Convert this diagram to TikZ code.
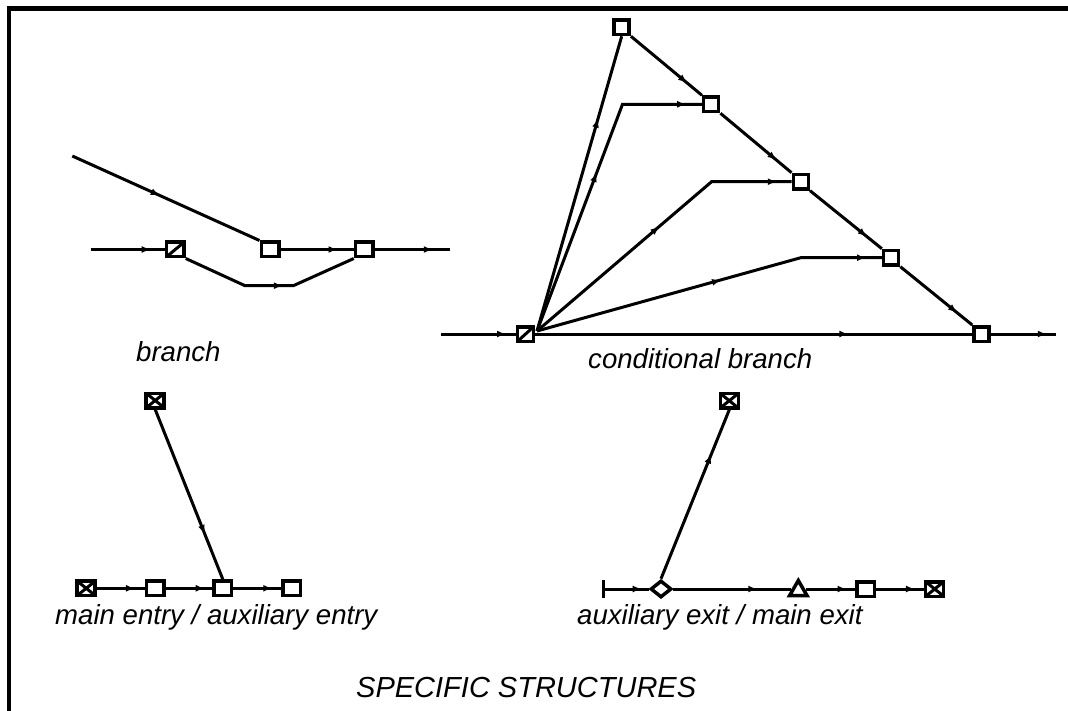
\documentclass[tikz,border=0pt]{standalone}
\usepackage{fontspec}
\setmainfont{Liberation Sans}
\usetikzlibrary{arrows.meta,decorations.markings,shapes.geometric}
\tikzset{
  conn/.style={line width=3pt, line join=miter},
  arr/.style={postaction={decorate,decoration={markings,mark=at position #1 with {\arrow{Latex[length=9pt,width=7pt]}}}}},
  box/.style={draw, line width=3.5pt, fill=white, inner sep=0pt, minimum width=17.5pt, minimum height=14.5pt},
  cbox/.style={box, minimum width=15pt, minimum height=14.5pt},
  slashbox/.style={box, path picture={\draw[line width=3pt] (path picture bounding box.south west) -- (path picture bounding box.north east);}},
  xbox/.style={box, minimum width=18pt, minimum height=14.5pt, path picture={\draw[line width=3pt] (path picture bounding box.south west) -- (path picture bounding box.north east) (path picture bounding box.north west) -- (path picture bounding box.south east);}},
  dbox/.style={diamond, draw, line width=3.5pt, fill=white, inner sep=0pt, minimum width=21pt, minimum height=17pt},
  tbox/.style={regular polygon, regular polygon sides=3, draw, line width=3.5pt, fill=white, inner sep=0pt, minimum size=20pt},
  lbl/.style={anchor=base west, inner sep=0pt, font=\fontsize{27.6}{33}\selectfont\itshape},
  ttl/.style={anchor=base west, inner sep=0pt, font=\fontsize{29}{35}\selectfont\itshape},
}
\begin{document}
\begin{tikzpicture}[x=1pt,y=-1pt]
\useasboundingbox (0,0) rectangle (1068,711);
% frame
\draw[line width=4.5pt] (9,711) -- (9,8.5) -- (1068,8.5);

% ---------- branch ----------
\node[slashbox] (br) at (175.3,249.5) {};
\node[box] (ba) at (270,249.5) {};
\node[box] (bb) at (364.3,249.5) {};
\coordinate (b0) at (90.7,249.5);
\coordinate (b9) at (450,249.5);
\coordinate (bt) at (72.3,156);
\coordinate (bl1) at (245,285.7);
\coordinate (bl2) at (293.3,285.7);
\draw[conn,arr=60pt] (b0) -- (br);
\draw[conn,arr=57pt] (ba) -- (bb);
\draw[conn,arr=58pt] (bb) -- (b9);
\draw[conn,arr=96pt] (bt) -- (ba.north west);
\draw[conn,arr=103pt] (br.south east) -- (bl1) -- (bl2) -- (bb.south west);
\node[lbl] (l1) at (136,361.5) {branch};

% ---------- conditional branch ----------
\node[slashbox, minimum width=16pt] (r) at (525.6,334) {};
\node[cbox] (c1) at (621.7,27.3) {};
\node[cbox] (c2) at (711.2,104.3) {};
\node[cbox] (c3) at (800.8,181.7) {};
\node[cbox] (c4) at (891.1,257.7) {};
\node[cbox] (c5) at (981.5,334) {};
\coordinate (m0) at (441,334);
\coordinate (m9) at (1056,334);
\coordinate (rc) at (537,331);
\coordinate (k2) at (622.5,104.3);
\coordinate (k3) at (711.6,181.7);
\coordinate (k4) at (800.8,257.7);
\draw[conn,arr=65pt] (m0) -- (r);
\draw[conn,arr=313pt] (r) -- (c5);
\draw[conn,arr=56pt] (c5) -- (m9);
\draw[conn,arr=73pt] (c1.south east) -- (c2.north west);
\draw[conn,arr=73pt] (c2.south east) -- (c3.north west);
\draw[conn,arr=73pt] (c3.south east) -- (c4.north west);
\draw[conn,arr=73pt] (c4.south east) -- (c5.north west);
\draw[conn,arr=221pt] (rc) -- (c1.south);
\draw[conn,arr=169pt,arr=306pt] (rc) -- (k2) -- (c2.west);
\draw[conn,arr=161pt,arr=295pt] (rc) -- (k3) -- (c3.west);
\draw[conn,arr=191pt,arr=339pt] (rc) -- (k4) -- (c4.west);
\node[lbl] (l2) at (588,368) {conditional branch};

% ---------- main entry / auxiliary entry ----------
\node[xbox] (e0) at (86.2,588.3) {};
\node[box] (e1) at (155.2,588.3) {};
\node[box] (e2) at (222.8,588.3) {};
\node[box] (e3) at (291.5,588.3) {};
\node[xbox] (et) at (155.2,400.5) {};
\draw[conn,arr=38pt] (e0) -- (e1);
\draw[conn,arr=39pt] (e1) -- (e2);
\draw[conn,arr=39pt] (e2) -- (e3);
\draw[conn,arr=134pt] (et.south) -- (e2.north);
\node[lbl] (l3) at (55,624) {main entry / auxiliary entry};

% ---------- auxiliary exit / main exit ----------
\coordinate (x0) at (601.7,589);
\node[dbox] (d) at (661,589) {};
\node[tbox] (t) at (798.3,590.5) {};
\node[box] (s) at (865.5,589) {};
\node[xbox] (x2) at (934.7,589) {};
\node[xbox] (xt) at (729.3,400.7) {};
\draw[conn,{Bar[width=18pt]}-,arr=40pt] (x0) -- (d);
\draw[conn,arr=84pt] (d) -- (t.west |- d.east);
\draw[conn,arr=-8.5pt] (t.east |- s.west) -- (s);
\draw[conn,arr=-9pt] (s) -- (x2);
\draw[conn,arr=134pt] (d.north) -- (xt.south);
\node[lbl] (l4) at (577,624) {auxiliary exit / main exit};

\node[ttl] (l5) at (356,697) {SPECIFIC STRUCTURES};
\end{tikzpicture}
\end{document}
